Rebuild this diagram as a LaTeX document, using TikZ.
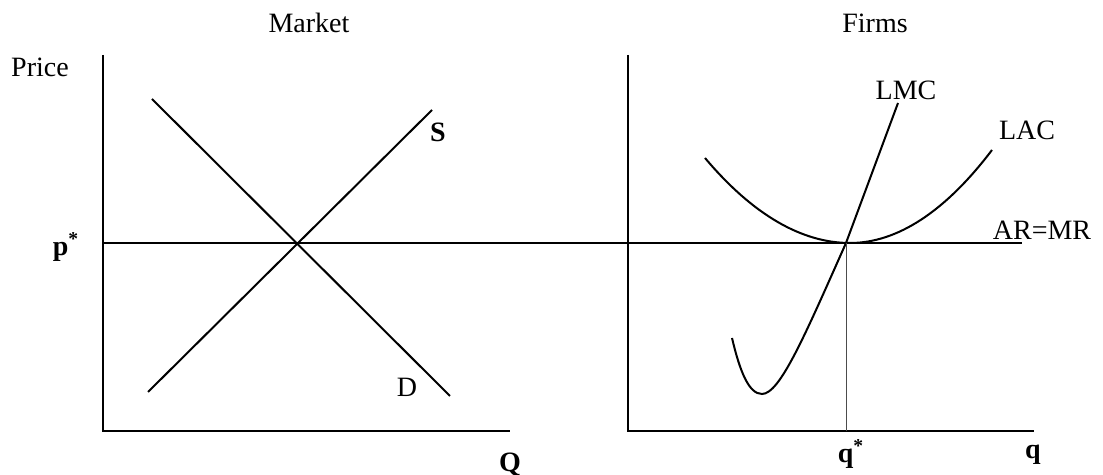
\documentclass[tikz,border=0pt]{standalone}
\usepackage{fontspec}
\setmainfont{Liberation Serif}
\usetikzlibrary{positioning}

\begin{document}
\begin{tikzpicture}[
		x=0.5pt, y=0.5pt,
		axis/.style={line width=0.8pt},
		curve/.style={line width=1pt},
		guide/.style={line width=0.4pt, black!70},
		lbl/.style={
			inner sep=0pt,
			anchor=base,
			font=\fontsize{14}{16}\selectfont
		},
		boldlbl/.style={lbl, font=\fontsize{14}{16}\selectfont\bfseries}
		]
		\useasboundingbox (0,0) rectangle (1103,475);
		
		% axes
		\coordinate (mtop) at (103,420);
		\coordinate (morig) at (103,44);
		\coordinate (mend) at (510,44);
		\coordinate (ftop) at (628,420);
		\coordinate (forig) at (628,44);
		\coordinate (fend) at (1034,44);
		\draw[axis] (mtop) -- (morig) -- (mend);
		\draw[axis] (ftop) -- (forig) -- (fend);
		
		% price line
		\coordinate (pleft) at (103,232);
		\coordinate (pright) at (1022,232);
		\draw[curve] (pleft) -- (pright);
		
		% market curves
		\coordinate (dtop) at (152,376);
		\coordinate (dbot) at (450,79);
		\coordinate (sbot) at (148,83);
		\coordinate (stop) at (432,365);
		\draw[curve] (dtop) -- (dbot);
		\draw[curve] (sbot) -- (stop);
		
		% firm curves
		\coordinate (eq) at (846,232);
		\coordinate (qfoot) at (846,44);
		\draw[curve] (705,317) .. controls (753,260) and (802,232) .. (850,232)
			.. controls (897,232) and (945,263) .. (992,325);
		\draw[curve] (732,137) .. controls (740,103) and (749,81) .. (762,81)
			.. controls (780,81) and (805,140) .. (eq) -- (898,372);
		\draw[guide] (eq) -- (qfoot);
		
		% labels
		\node[lbl] (market) at (309,442) {Market};
		\node[lbl] (firms) at (875,442) {Firms};
		\node[lbl] (price) at (40,398) {Price};
		\node[boldlbl] (pstar) at (66,219) {p\textsuperscript{*}};
		\node[boldlbl] (slbl) at (438,333) {S};
		\node[lbl] (dlbl) at (407,78) {D};
		\node[boldlbl] (qmkt) at (510,3) {Q};
		\node[lbl] (lmc) at (906,375) {LMC};
		\node[lbl] (lac) at (1027,335) {LAC};
		\node[lbl] (armr) at (1042,235) {AR=MR};
		\node[boldlbl] (qstar) at (851,12) {q\textsuperscript{*}};
		\node[boldlbl] (qfirm) at (1033,16) {q};
		
	\end{tikzpicture}
\end{document}
